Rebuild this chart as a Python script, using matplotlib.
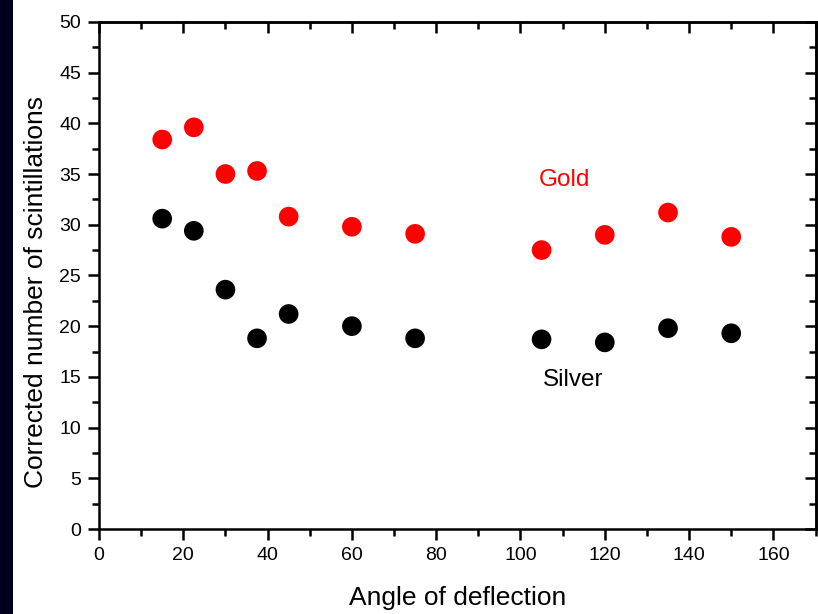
import matplotlib
matplotlib.use("Agg")
import matplotlib.pyplot as plt
from matplotlib.patches import Rectangle
from matplotlib.ticker import MultipleLocator

angles = [15, 22.5, 30, 37.5, 45, 60, 75, 105, 120, 135, 150]
gold = [38.4, 39.6, 35.0, 35.3, 30.8, 29.8, 29.1, 27.5, 29.0, 31.2, 28.8]
silver = [30.6, 29.4, 23.6, 18.8, 21.2, 20.0, 18.8, 18.7, 18.4, 19.8, 19.3]

plt.rcParams['font.family'] = ['Liberation Sans', 'DejaVu Sans']

fig = plt.figure(figsize=(8.18, 6.14), dpi=100, facecolor='white')
# dark strip on the left edge
fig.patches.append(Rectangle((0, 0), 13 / 818, 1, transform=fig.transFigure,
                             facecolor='#00001e', edgecolor='none', zorder=0))

ax = fig.add_axes([0.121, 0.1384, 0.876, 0.826])
ax.scatter(angles, gold, s=200, color='#ff0000', edgecolors='none', zorder=3)
ax.scatter(angles, silver, s=200, color='black', edgecolors='none', zorder=3)

ax.text(110.5, 34.4, 'Gold', color='#ff0000', fontsize=17.5, ha='center', va='center')
ax.text(112.5, 14.7, 'Silver', color='black', fontsize=17.5, ha='center', va='center')

ax.set_xlim(0, 170)
ax.set_ylim(0, 50)
ax.xaxis.set_major_locator(MultipleLocator(20))
ax.xaxis.set_minor_locator(MultipleLocator(10))
ax.yaxis.set_major_locator(MultipleLocator(5))
ax.yaxis.set_minor_locator(MultipleLocator(2.5))

lw = 1.8
for s in ax.spines.values():
    s.set_linewidth(lw)

ax.tick_params(which='both', direction='out', width=lw, labelsize=14, pad=5)
ax.tick_params(which='major', length=8)
ax.tick_params(which='minor', length=5)
# inward ticks on top and right
ax2 = ax.secondary_xaxis('top')
ax2.xaxis.set_major_locator(MultipleLocator(20))
ax2.xaxis.set_minor_locator(MultipleLocator(10))
ax2.tick_params(which='both', direction='in', width=lw, labeltop=False)
ax2.tick_params(which='major', length=8)
ax2.tick_params(which='minor', length=5)
ax3 = ax.secondary_yaxis('right')
ax3.yaxis.set_major_locator(MultipleLocator(5))
ax3.yaxis.set_minor_locator(MultipleLocator(2.5))
ax3.tick_params(which='both', direction='in', width=lw, labelright=False)
ax3.tick_params(which='major', length=8)
ax3.tick_params(which='minor', length=5)
for a in (ax2, ax3):
    for s in a.spines.values():
        s.set_linewidth(lw)

ax.set_xlabel('Angle of deflection', fontsize=19, labelpad=16)
ax.set_ylabel('Corrected number of scintillations', fontsize=19, labelpad=8)
ax.yaxis.set_label_coords(-0.071, 0.468)

fig.savefig('out.png', dpi=100, facecolor='white')
